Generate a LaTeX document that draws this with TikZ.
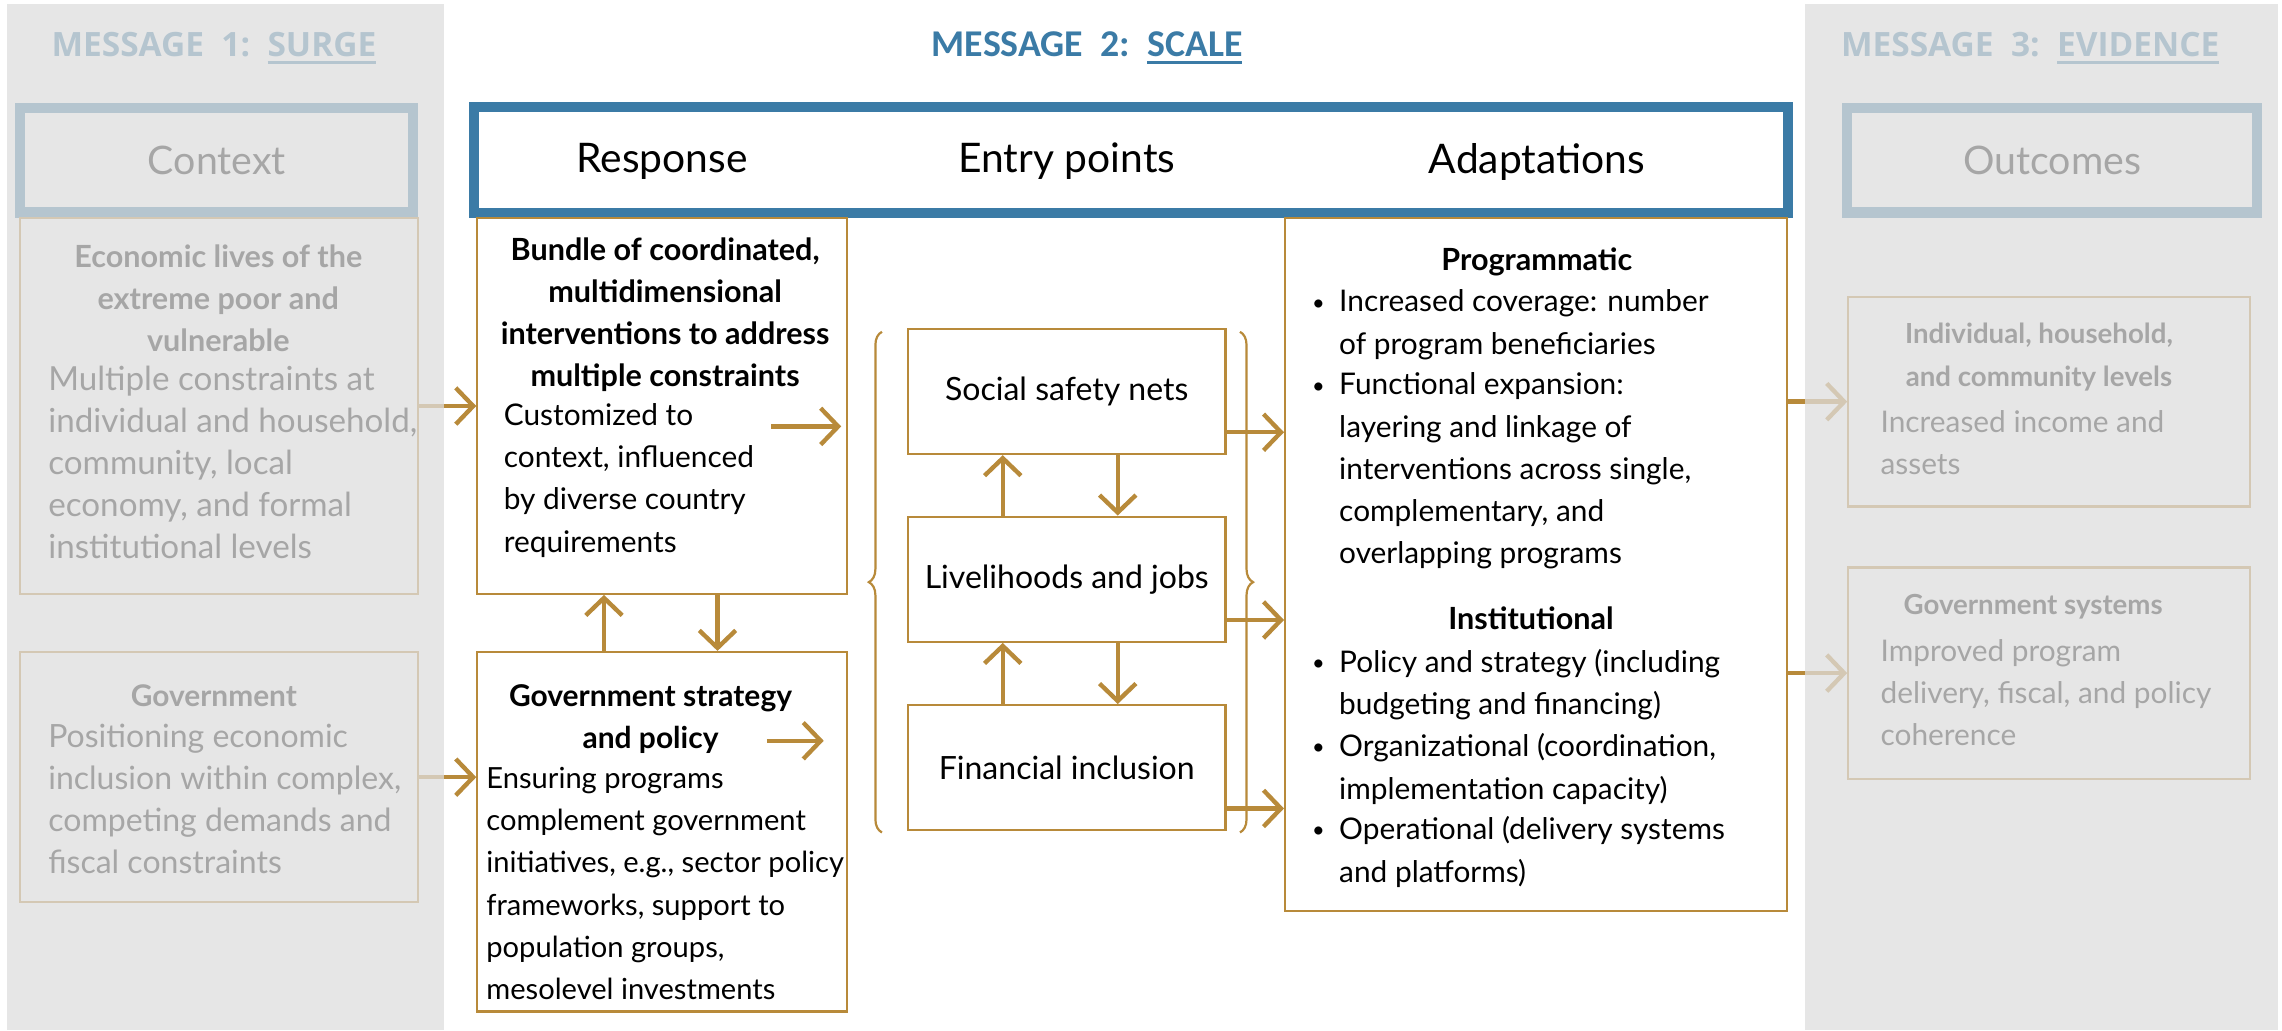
\documentclass[tikz,border=0pt]{standalone}
\usepackage{fontspec}
\setmainfont{Lato}
\newfontfamily\titlefont{Carlito}
\newfontfamily\sidefont{Open Sans}
\usetikzlibrary{arrows.meta,decorations.pathreplacing}

\definecolor{gold}{RGB}{184,138,58}
\definecolor{msgblue}{RGB}{59,123,166}
\definecolor{veil}{RGB}{222,222,222}

% underlined word with a thicker rule
\newcommand\uword[1]{\sbox0{#1}\usebox0\kern-\wd0\vrule width\wd0 height -3pt depth 5.5pt\relax}
% font size on the common 29pt line pitch
\newcommand\fs[1]{\fontsize{#1}{29}\selectfont}

\begin{document}
\begin{tikzpicture}[
        x=1pt, y=-1pt,
        box/.style={draw=gold, line width=1.5pt, fill=white, inner sep=0pt},
        hdframe/.style={draw=msgblue, line width=7pt, fill=white, inner sep=0pt, font=\fs{27}},
        colhead/.style={inner sep=0pt, font=\fs{28}},
        hd/.style={font=\bfseries\fs{#1}, align=center, inner sep=0pt, anchor=north},
        hd/.default=21,
        bd/.style={font=\fs{#1}, align=left, inner sep=0pt, anchor=north west},
        bd/.default=22,
        entry/.style={box, minimum width=218pt, minimum height=86pt, font=\fs{22}},
        dot/.style={inner sep=0pt, font=\fs{15}},
        link/.style={draw=gold, line width=3pt, -{Straight Barb[length=12pt,width=25pt]}},
        msg/.style={inner sep=0pt, text=msgblue}
    ]
        \fill[white] (0,0) rectangle (1568,708);
        \useasboundingbox (0,0) rectangle (1568,708);

        % --- TITLES ---
        \node[msg, font=\sidefont\bfseries\fontsize{23}{28}\selectfont] (msg1) at (147,33) {MESSAGE\ \ 1:\ \ \uword{SURGE}};
        \node[msg, font=\titlefont\bfseries\fontsize{26}{30}\selectfont] (msg2) at (747,33) {MESSAGE\ \ 2:\ \ \uword{SCALE}};
        \node[msg, font=\sidefont\bfseries\fontsize{23}{28}\selectfont] (msg3) at (1395,33) {MESSAGE\ \ 3:\ \ \uword{EVIDENCE}};

        % --- COLUMN HEADS ---
        \node[hdframe, minimum width=270pt, minimum height=72pt] (ctx) at (149,110) {Context};
        \node[hdframe, minimum width=903pt, minimum height=73pt] (head) at (777,110) {};
        \node[colhead] (hresp) at (455,111) {Response};
        \node[colhead] (hentry) at (733,111) {Entry points};
        \node[colhead] (hadapt) at (1056,111) {Adaptations};
        \node[hdframe, minimum width=282pt, minimum height=72pt] (out) at (1410,110) {Outcomes};

        % --- CONTEXT ---
        \node[box, minimum width=273pt, minimum height=258pt] (econ) at (150.5,279) {};
        \node[hd] (econh) at (150,168) {Economic lives of the\\extreme poor and\\vulnerable};
        \node[bd=22.8] (econb) at (33,251) {Multiple constraints at\\individual and household,\\community, local\\economy, and formal\\institutional levels};

        \node[box, minimum width=273pt, minimum height=172pt] (gov) at (150.5,534) {};
        \node[hd=20.5] (govh) at (147,470) {Government};
        \node[bd] (govb) at (33,497) {Positioning economic\\inclusion within complex,\\competing demands and\\fiscal constraints};

        % --- RESPONSE ---
        \node[box, minimum width=254pt, minimum height=258pt] (resp) at (455,279) {};
        \node[hd] (resph) at (457,163) {Bundle of coordinated,\\multidimensional\\interventions to address\\multiple constraints};
        \node[bd=20.5] (respb) at (346,277) {Customized to\\context, influenced\\by diverse country\\requirements};
        \coordinate (r1) at (530,293);
        \coordinate (r2) at (578,293);

        \node[box, minimum width=254pt, minimum height=247pt] (strat) at (455,571.5) {};
        \node[hd=20.6] (strath) at (447,470) {Government strategy\\and policy};
        \node[bd=20] (stratb) at (334,527) {Ensuring programs\\complement government\\initiatives, e.g., sector policy\\frameworks, support to\\population groups,\\mesolevel investments};
        \coordinate (s1) at (527,509);
        \coordinate (s2) at (566,509);

        % --- ENTRY POINTS ---
        \node[entry] (ssn) at (733,269) {Social safety nets};
        \node[entry] (lj) at (733,398) {Livelihoods and jobs};
        \node[entry] (fi) at (733,527.5) {Financial inclusion};
        \draw[gold, line width=1.5pt, decorate, decoration={brace, amplitude=9pt}] (606,572) -- (606,228);
        \draw[gold, line width=1.5pt, decorate, decoration={brace, amplitude=9pt}] (852,228) -- (852,572);

        % --- ADAPTATIONS ---
        \node[box, minimum width=345pt, minimum height=476pt] (adapt) at (1055.5,388) {};
        \node[hd] (progh) at (1056,170) {Programmatic};
        \node[dot] (d1) at (906,210) {\textbullet};
        \node[bd=20.5] (p1) at (920,199) {Increased coverage: number\\of program beneficiaries};
        \node[dot] (d2) at (906,267) {\textbullet};
        \node[bd=20.5] (p2) at (920,256) {Functional expansion:\\layering and linkage of\\interventions across single,\\complementary, and\\overlapping programs};
        \node[hd] (insth) at (1052,417) {Institutional};
        \node[dot] (d3) at (906,457) {\textbullet};
        \node[bd=20.5] (i1) at (920,446) {Policy and strategy (including\\budgeting and financing)};
        \node[dot] (d4) at (906,515) {\textbullet};
        \node[bd=20.5] (i2) at (920,504) {Organizational (coordination,\\implementation capacity)};
        \node[dot] (d5) at (906,572) {\textbullet};
        \node[bd=20.5] (i3) at (920,561) {Operational (delivery systems\\and platforms)};

        % --- OUTCOMES ---
        \node[box, minimum width=276pt, minimum height=144pt] (indiv) at (1408,276) {};
        \node[hd=19] (indivh) at (1401,222) {Individual, household,\\and community levels};
        \node[bd=20.5] (indivb) at (1292,282) {Increased income and\\assets};
        \node[box, minimum width=276pt, minimum height=145pt] (gsys) at (1408,462.5) {};
        \node[hd=19] (gsysh) at (1397,408) {Government systems};
        \node[bd=20.5] (gsysb) at (1292,439) {Improved program\\delivery, fiscal, and policy\\coherence};

        % --- ARROWS ---
        \draw[link] (econ.east) -- (econ.east -| resp.west);
        \draw[link] (gov.east) -- (gov.east -| strat.west);
        \draw[link] (r1) -- (r2);
        \draw[link] (s1) -- (s2);
        \draw[link] ([xshift=-40pt]strat.north) -- ([xshift=-40pt]resp.south);
        \draw[link] ([xshift=38pt]resp.south) -- ([xshift=38pt]strat.north);
        \foreach \a/\b in {ssn/lj, lj/fi} {
            \draw[link] ([xshift=-44pt]\b.north) -- ([xshift=-44pt]\a.south);
            \draw[link] ([xshift=35pt]\a.south) -- ([xshift=35pt]\b.north);
        }
        \foreach \n in {ssn, lj, fi} {
            \draw[link] ([yshift=-28pt]\n.east) -- ([yshift=-28pt]\n.east -| adapt.west);
        }
        \draw[link] (adapt.east |- indiv.west) -- (indiv.west);
        \draw[link] (adapt.east |- gsys.west) -- (gsys.west);

        % side panels are greyed out
        \fill[veil, opacity=0.75] (5,3) rectangle (305,708);
        \fill[veil, opacity=0.75] (1240,3) rectangle (1565,708);
    \end{tikzpicture}
\end{document}
